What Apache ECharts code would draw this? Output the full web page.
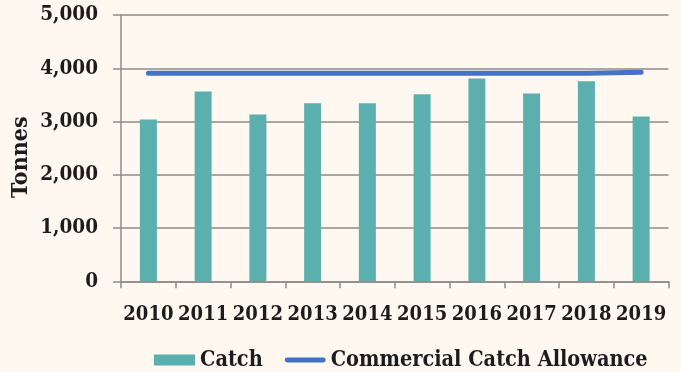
<!DOCTYPE html>
<html>
<head>
<meta charset="utf-8">
<script src="https://cdn.jsdelivr.net/npm/echarts@6/dist/echarts.min.js"></script>
<style>
html,body{margin:0;padding:0;background:#FEF8F1;}
#c{width:681px;height:372px;}
</style>
</head>
<body>
<div id="c"></div>
<script>
const years = ['2010','2011','2012','2013','2014','2015','2016','2017','2018','2019'];
const catchValues = [3040, 3565, 3130, 3345, 3345, 3510, 3810, 3525, 3755, 3095];
const allowanceValues = [3905, 3905, 3905, 3905, 3905, 3905, 3905, 3905, 3905, 3925];
const yTicks = {min: 0, max: 5000, interval: 1000};

const FONT = '"DejaVu Serif Condensed", "DejaVu Serif", serif';
const TXT = '#1c1c1c';
const GRAY = '#8f8b87';

const chart = echarts.init(document.getElementById('c'), null, {renderer: 'canvas'});
chart.setOption({
  backgroundColor: '#FEF8F1',
  animation: false,
  textStyle: {fontFamily: FONT},
  grid: {left: 121, right: 12.5, top: 15, bottom: 90.7, containLabel: false},
  legend: {
    left: 154, top: 349, padding: 0,
    itemWidth: 41, itemHeight: 11, itemGap: 22,
    textStyle: {fontFamily: FONT, fontWeight: 'bold', fontSize: 21.5, color: TXT},
    data: [
      {name: 'Catch', icon: 'rect'},
      {name: 'Commercial Catch Allowance', icon: 'path://M2.5,0 L39.5,0 A2.5,2.5 0 0 1 39.5,5 L2.5,5 A2.5,2.5 0 0 1 2.5,0 Z'}
    ]
  },
  xAxis: {
    type: 'category',
    data: years,
    boundaryGap: true,
    axisLine: {lineStyle: {color: GRAY, width: 1.5}},
    axisTick: {show: true, length: 7, lineStyle: {color: GRAY, width: 1.5}},
    axisLabel: {margin: 23, fontFamily: FONT, fontWeight: 'bold', fontSize: 20, color: TXT, interval: 0},
    splitLine: {show: false}
  },
  yAxis: {
    type: 'value',
    min: yTicks.min, max: yTicks.max, interval: yTicks.interval,
    name: 'Tonnes',
    nameLocation: 'middle',
    nameGap: 88,
    nameMoveOverlap: false,
    nameRotate: 90,
    nameTextStyle: {fontFamily: FONT, fontWeight: 'bold', fontSize: 23, color: TXT, padding: [0, 18, 0, 0]},
    axisLine: {show: true, lineStyle: {color: GRAY, width: 1.5}},
    axisTick: {show: true, length: 8, lineStyle: {color: GRAY, width: 1.5}},
    axisLabel: {margin: 23, fontFamily: FONT, fontWeight: 'bold', fontSize: 20.5, color: TXT,
      formatter: v => v.toLocaleString('en-US')},
    splitLine: {show: true, lineStyle: {color: GRAY, width: 1.5}}
  },
  series: [
    {
      name: 'Catch',
      type: 'bar',
      data: catchValues,
      barWidth: 17,
      itemStyle: {color: '#5BAFAE'}
    },
    {
      name: 'Commercial Catch Allowance',
      type: 'line',
      data: allowanceValues,
      symbol: 'none',
      showSymbol: false,
      lineStyle: {color: '#4472C4', width: 5, cap: 'round'},
      itemStyle: {color: '#4472C4'}
    }
  ]
});
</script>
</body>
</html>
